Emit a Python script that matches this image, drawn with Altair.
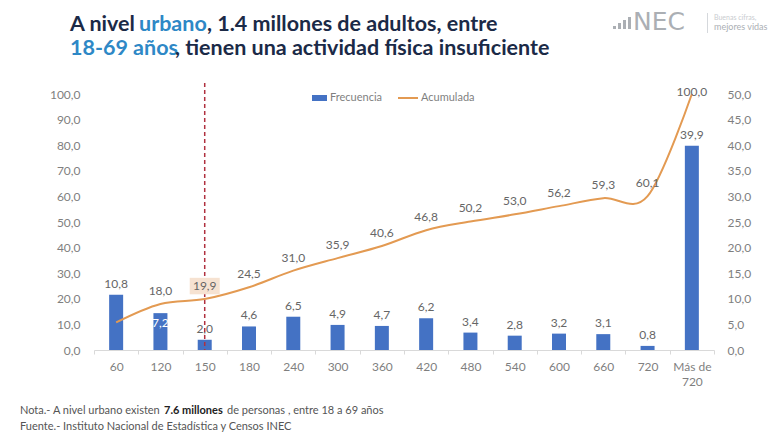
import altair as alt
import pandas as pd

# ---------------- data ----------------
categorias = ["60", "120", "150", "180", "240", "300", "360", "420",
              "480", "540", "600", "660", "720", "Más de 720"]
frecuencia = [10.8, 7.2, 2.0, 4.6, 6.5, 4.9, 4.7, 6.2, 3.4, 2.8, 3.2, 3.1, 0.8, 39.9]
acumulada = [10.8, 18.0, 19.9, 24.5, 31.0, 35.9, 40.6, 46.8, 50.2, 53.0, 56.2, 59.3, 60.1, 100.0]
ticks_izq = [0, 10, 20, 30, 40, 50, 60, 70, 80, 90, 100]
ticks_der = [0, 5, 10, 15, 20, 25, 30, 35, 40, 45, 50]
corte = "150"

titulo_1 = ["A nivel ", "urbano", ", 1.4 millones de adultos, entre"]
titulo_2 = ["18-69 años", ", tienen una actividad física insuficiente"]
nota = ["Nota.- A nivel urbano existen ", "7.6 millones", "de personas , entre 18 a 69 años"]
fuente = "Fuente.- Instituto Nacional de Estadística y Censos INEC"
leyenda = ["Frecuencia", "Acumulada"]

# ---------------- style ----------------
AZUL = "#4472C4"
NARANJA = "#E39A52"
GRIS = "#7F7F7F"
GRIS_TXT = "#666666"
TIT_OSC = "#1B2A47"
TIT_AZUL = "#2E88C6"
LOGO = "#ABAFB4"
FONT = "Lato"
W, H = 620, 256
OX, OY = 94, 94  # page position of plot origin


def px(v):
    return v - OX


def py(v):
    return v - OY


df = pd.DataFrame({"cat": categorias, "frec": frecuencia, "acum": acumulada})
base = alt.Chart(df).transform_calculate(
    lf="replace(format(datum.frec, '.1f'), '.', ',')",
    la="replace(format(datum.acum, '.1f'), '.', ',')",
)

num_expr = "replace(format(datum.value, '.1f'), '.', ',')"

x_enc = alt.X(
    "cat:N", sort=categorias,
    scale=alt.Scale(paddingInner=0, paddingOuter=0),
    axis=alt.Axis(title=None, labelAngle=0, labelColor=GRIS, labelFont=FONT, labelFontSize=12,
                  domainColor="#D9D9D9", tickColor="#D9D9D9", tickSize=4, tickBand="extent",
                  labelPadding=7, labelLineHeight=15,
                  labelExpr="datum.label == 'Más de 720' ? ['Más de', '720'] : datum.label"),
)

sc_frec = alt.Scale(domain=[0, 50], nice=False)
sc_acum = alt.Scale(domain=[0, 100], nice=False)

bars = base.mark_bar(size=14, color=AZUL).encode(
    x=x_enc,
    y=alt.Y("frec:Q", scale=sc_frec,
            axis=alt.Axis(orient="right", title=None, values=ticks_der, labelExpr=num_expr,
                          domain=False, ticks=False, grid=False, labelColor=GRIS,
                          labelFont=FONT, labelFontSize=12, labelPadding=13)),
)

bar_labels = base.transform_filter("datum.cat != '120'").mark_text(
    dy=-11, baseline="middle", fontSize=12, font=FONT, color=GRIS_TXT
).encode(x=x_enc, y=alt.Y("frec:Q", scale=sc_frec, axis=None), text="lf:N")

bar_label_in = base.transform_filter("datum.cat == '120'").mark_text(
    dy=10, baseline="middle", fontSize=12, font=FONT, color="white"
).encode(x=x_enc, y=alt.Y("frec:Q", scale=sc_frec, axis=None), text="lf:N")

rule = base.transform_filter(f"datum.cat == '{corte}'").mark_rule(
    color="#B0303F", strokeDash=[4, 3], strokeWidth=1.5
).encode(x=x_enc, y=alt.value(py(83)), y2=alt.value(H))

line = base.mark_line(color=NARANJA, strokeWidth=2, interpolate="cardinal").encode(
    x=x_enc,
    y=alt.Y("acum:Q", scale=sc_acum,
            axis=alt.Axis(orient="left", title=None, values=ticks_izq, labelExpr=num_expr,
                          domain=False, ticks=False, grid=False, labelColor=GRIS,
                          labelFont=FONT, labelFontSize=12, labelPadding=14)),
)

box = base.transform_filter(f"datum.cat == '{corte}'").mark_point(
    shape="M-1,-0.55L1,-0.55L1,0.55L-1,0.55Z", size=900, filled=True, opacity=1,
    color="#F6E2D1", yOffset=-13
).encode(x=x_enc, y=alt.Y("acum:Q", scale=sc_acum, axis=None))

line_labels = base.transform_filter("datum.cat != '60' && datum.acum < 100").mark_text(
    dy=-13, baseline="middle", fontSize=12, font=FONT, color=GRIS_TXT
).encode(x=x_enc, y=alt.Y("acum:Q", scale=sc_acum, axis=None), text="la:N")

top_label = base.transform_filter("datum.acum >= 100").mark_text(
    dy=-2, baseline="middle", fontSize=12, font=FONT, color=GRIS_TXT
).encode(x=x_enc, y=alt.Y("acum:Q", scale=sc_acum, axis=None), text="la:N")


def txt(s, x, y, size, color, weight="normal", font=FONT, baseline="middle"):
    return alt.Chart(pd.DataFrame({"t": [s]})).mark_text(
        align="left", baseline=baseline, fontSize=size, font=font, fontWeight=weight, color=color
    ).encode(x=alt.value(px(x)), y=alt.value(py(y)), text="t:N")


def rect(x1, x2, y1, y2, color):
    return alt.Chart(pd.DataFrame({"t": [0]})).mark_rect(color=color).encode(
        x=alt.value(px(x1)), x2=alt.value(px(x2)), y=alt.value(py(y1)), y2=alt.value(py(y2)))


TS = 21.5
deco = [
    # title
    txt(titulo_1[0], 70, 31, TS, TIT_OSC, "bold", baseline="alphabetic"),
    txt(titulo_1[1], 139, 31, TS, TIT_AZUL, "bold", baseline="alphabetic"),
    txt(titulo_1[2], 207, 31, TS, TIT_OSC, "bold", baseline="alphabetic"),
    txt(titulo_2[0], 70, 55, TS, TIT_AZUL, "bold", baseline="alphabetic"),
    txt(titulo_2[1], 175, 55, TS, TIT_OSC, "bold", baseline="alphabetic"),
    # logo
    rect(613, 616, 26, 29, LOGO),
    rect(618, 621, 23, 29, LOGO),
    rect(623, 626, 20, 29, LOGO),
    rect(628, 631, 17, 29, LOGO),
    txt("NEC", 633, 30, 25, LOGO, font="DejaVu Sans", baseline="alphabetic"),
    rect(707, 708, 13, 33, "#D5D8DC"),
    txt("Buenas cifras,", 714, 18, 7, "#C9CCD0"),
    txt("mejores vidas", 714, 27, 9, LOGO),
    # legend
    rect(312, 327, 95, 101, AZUL),
    txt(leyenda[0], 330, 98, 11, GRIS),
    rect(398, 418, 97, 99, NARANJA),
    txt(leyenda[1], 421, 98, 11, GRIS),
    # notes
    txt(nota[0], 20, 411, 11, "#555555"),
    txt(nota[1], 164, 411, 11, "#222222", "bold"),
    txt(nota[2], 227, 411, 11, "#555555"),
    txt(fuente, 20, 427, 11, "#555555"),
]

chart = alt.layer(
    bars, bar_labels, bar_label_in, rule, line, box, line_labels, top_label, *deco
).resolve_scale(y="independent").properties(
    width=W, height=H,
    autosize=alt.AutoSizeParams(type="none"),
    padding={"left": 86, "top": 86, "right": 58, "bottom": 82},
    background="white",
).configure_view(stroke=None)

chart.save("out.html", embed_options={"renderer": "svg", "actions": False})
